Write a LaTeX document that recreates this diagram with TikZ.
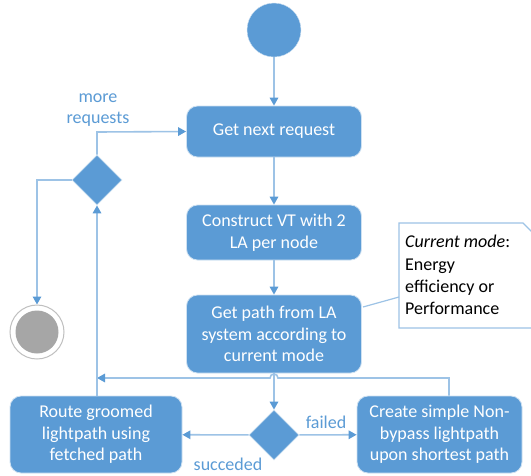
\documentclass[tikz,border=0pt]{standalone}
\usepackage{fontspec}
\setmainfont{Carlito}
\usetikzlibrary{shapes.geometric,arrows.meta}
\definecolor{fillblue}{HTML}{5B9BD5}
\definecolor{lineblue}{HTML}{9DC3E6}
\definecolor{labelblue}{HTML}{5B9BD5}
\definecolor{notegray}{HTML}{9DC3E6}
\tikzset{
  actbox/.style={rectangle, rounded corners=11pt, fill=fillblue, draw=white!70!fillblue, line width=0.8pt,
    text=white, align=center, font=\fontsize{18}{21.6}\selectfont, inner sep=0pt},
  decision/.style={diamond, fill=fillblue, draw=white!70!fillblue, line width=0.8pt, minimum width=50pt, minimum height=50pt, inner sep=0pt},
  conn/.style={draw=lineblue, line width=1.6pt, -{Triangle[length=8pt,width=8.5pt,fill=fillblue,color=fillblue]}},
  plain/.style={draw=lineblue, line width=1.6pt},
  lbl/.style={text=labelblue, font=\fontsize{18}{21.6}\selectfont, align=center, inner sep=0pt},
}
\begin{document}
\begin{tikzpicture}[x=1pt,y=-1pt]
\useasboundingbox (0,0) rectangle (531,475);
\fill[white] (0,0) rectangle (531,475);
% start
\node[circle, fill=fillblue, draw=white!70!fillblue, minimum size=54pt, inner sep=0pt] (start) at (274,30) {};
% main column
\node[actbox, minimum width=175pt, minimum height=51pt] (b1) at (274,131.5) {Get next request};
\node[actbox, minimum width=175pt, minimum height=55pt] (b2) at (274,232.5) {Construct VT with 2\\LA per node};
\node[actbox, minimum width=175pt, minimum height=78pt] (b3) at (274,334) {Get path from LA\\system according to\\current mode};
\node[decision] (d2) at (274,435) {};
\node[actbox, minimum width=172pt, minimum height=77pt] (bl) at (96,434.5) {Route groomed\\lightpath using\\fetched path};
\node[actbox, minimum width=165pt, minimum height=77pt] (br) at (439.5,434.5) {Create simple Non-\\bypass lightpath\\upon shortest path};
\node[decision] (d1) at (97,180) {};
% final node
\node[circle, fill=white, draw=black!25, line width=1pt, minimum size=54pt, inner sep=0pt] (final) at (37,332) {};
\node[circle, fill=black!35, minimum size=43pt, inner sep=0pt] (finalin) at (37,332) {};
% connectors
\draw[conn] (start) -- (b1);
\draw[conn] (b1) -- (b2);
\draw[conn] (b2) -- (b3);
\draw[conn] (b3) -- (d2);
\draw[conn] (d2) -- (bl);
\draw[conn] (d2) -- (br);
\coordinate (hopR) at (278,378);
\coordinate (joinL) at (97,378);
\draw[conn] (br.north -| 449,0) -- (449,378) -- (hopR) arc (0:-180:4) -- (joinL);
\draw[conn] (bl.north -| d1) -- (d1.south);
\coordinate (loopTop) at (97,132);
\draw[conn] (d1.north) -- (loopTop) -- (b1.west);
\coordinate (loopL) at (37,180);
\draw[conn] (d1.west) -- (loopL) -- (final.north);
% labels
\node[lbl] (more) at (98,110) {more\\requests};
\node[lbl, anchor=base] (failed) at (326,428) {failed};
\node[lbl, anchor=base] (succ) at (228,470) {succeded};
% note
\draw[draw=notegray, line width=1.2pt, fill=white] (399,223) -- (523,223) -- (535,235) -- (535,328) -- (399,328) -- cycle;
\coordinate (noteL) at (399,297);
\coordinate (b3R) at (363,307);
\draw[plain, line width=1.2pt] (b3R) -- (noteL);
\node[anchor=north west, align=left, font=\fontsize{18}{22.4}\selectfont, inner sep=0pt] (note) at (405,235)
  {\textit{Current mode}:\\Energy\\efficiency or\\Performance};
\end{tikzpicture}
\end{document}
